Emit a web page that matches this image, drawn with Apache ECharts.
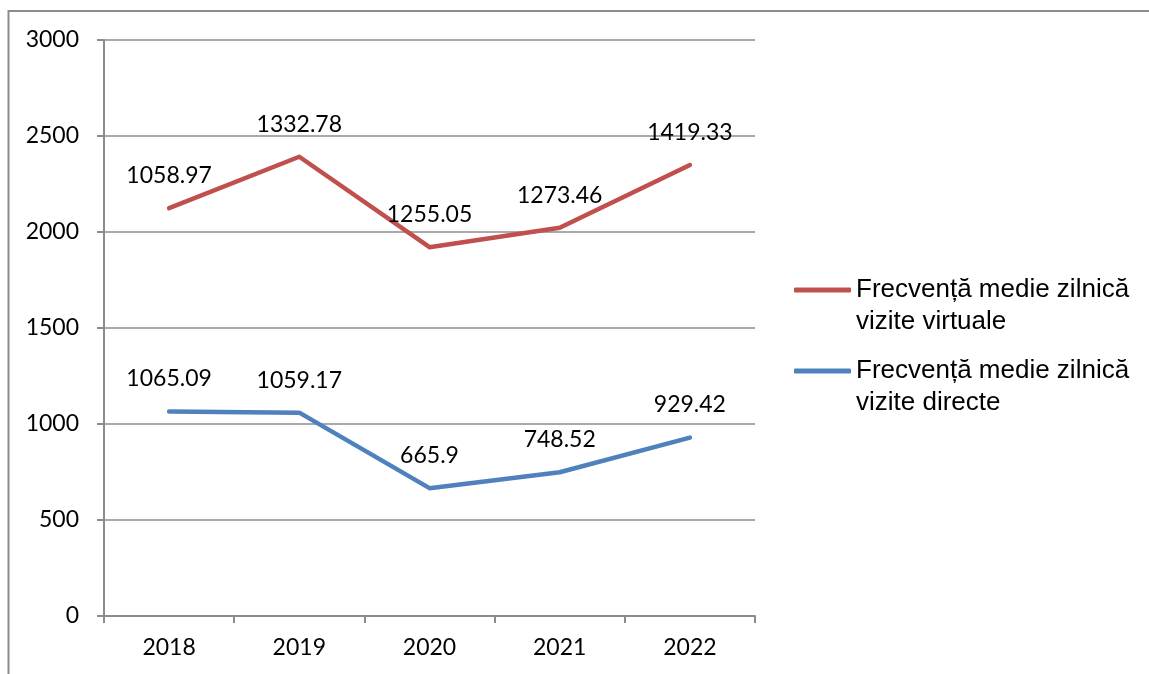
<!DOCTYPE html>
<html><head><meta charset="utf-8">
<script src="https://cdn.jsdelivr.net/npm/echarts@6/dist/echarts.min.js"></script>
<style>html,body{margin:0;padding:0;background:#fff}#c{width:1149px;height:674px}</style>
</head><body><div id="c"></div>
<script>
var categories = ['2018', '2019', '2020', '2021', '2022'];
var virtualVisits = [1058.97, 1332.78, 1255.05, 1273.46, 1419.33];
var directVisits = [1065.09, 1059.17, 665.9, 748.52, 929.42];
var yTicks = [0, 500, 1000, 1500, 2000, 2500, 3000];
var nameVirtual = 'Frecvență medie zilnică\nvizite virtuale';
var nameDirect = 'Frecvență medie zilnică\nvizite directe';

var grey = '#8c8c8c';
var labelFont = 'Lato';
function lbl() {
  return {show: true, position: 'top', distance: 21, color: '#000', fontFamily: labelFont, fontSize: 23};
}
function legendCfg(name, top) {
  return {data: [name], left: 794, top: top, padding: 0, orient: 'vertical', itemWidth: 57, itemHeight: 5, icon: 'roundRect',
    formatter: function (n) { return '\n' + n; },
    textStyle: {fontFamily: 'Liberation Sans', fontSize: 26, lineHeight: 32, color: '#000'}};
}
var chart = echarts.init(document.getElementById('c'));
chart.setOption({
  animation: false,
  backgroundColor: '#fff',
  graphic: [{type: 'rect', shape: {x: 8.5, y: 11, width: 1300, height: 800}, style: {fill: 'none', stroke: grey, lineWidth: 2}, silent: true}],
  grid: {left: 104, right: 394, top: 40, bottom: 58},
  legend: [legendCfg(nameVirtual, 242), legendCfg(nameDirect, 323)],
  xAxis: {
    type: 'category', data: categories, boundaryGap: true,
    axisLine: {lineStyle: {color: grey, width: 2}},
    axisTick: {show: true, length: 7, lineStyle: {color: grey, width: 2}},
    axisLabel: {color: '#000', fontFamily: labelFont, fontSize: 23, margin: 20}
  },
  yAxis: {
    type: 'value', min: yTicks[0], max: yTicks[yTicks.length - 1], interval: 500,
    axisLine: {show: true, lineStyle: {color: grey, width: 2}},
    axisTick: {show: true, length: 7, lineStyle: {color: grey, width: 2}},
    splitLine: {lineStyle: {color: grey, width: 1.5}},
    axisLabel: {color: '#000', fontFamily: labelFont, fontSize: 23, margin: 25, formatter: function (v) { return String(v); }}
  },
  series: [
    {name: nameDirect, type: 'line', stack: 'total', data: directVisits, symbol: 'circle', symbolSize: 0, showSymbol: true,
     lineStyle: {color: '#4F81BD', width: 4.5, cap: 'round', join: 'round'}, itemStyle: {color: '#4F81BD'}, label: lbl()},
    {name: nameVirtual, type: 'line', stack: 'total', data: virtualVisits, symbol: 'circle', symbolSize: 0, showSymbol: true,
     lineStyle: {color: '#C0504D', width: 4.5, cap: 'round', join: 'round'}, itemStyle: {color: '#C0504D'}, label: lbl()}
  ]
});
</script></body></html>
